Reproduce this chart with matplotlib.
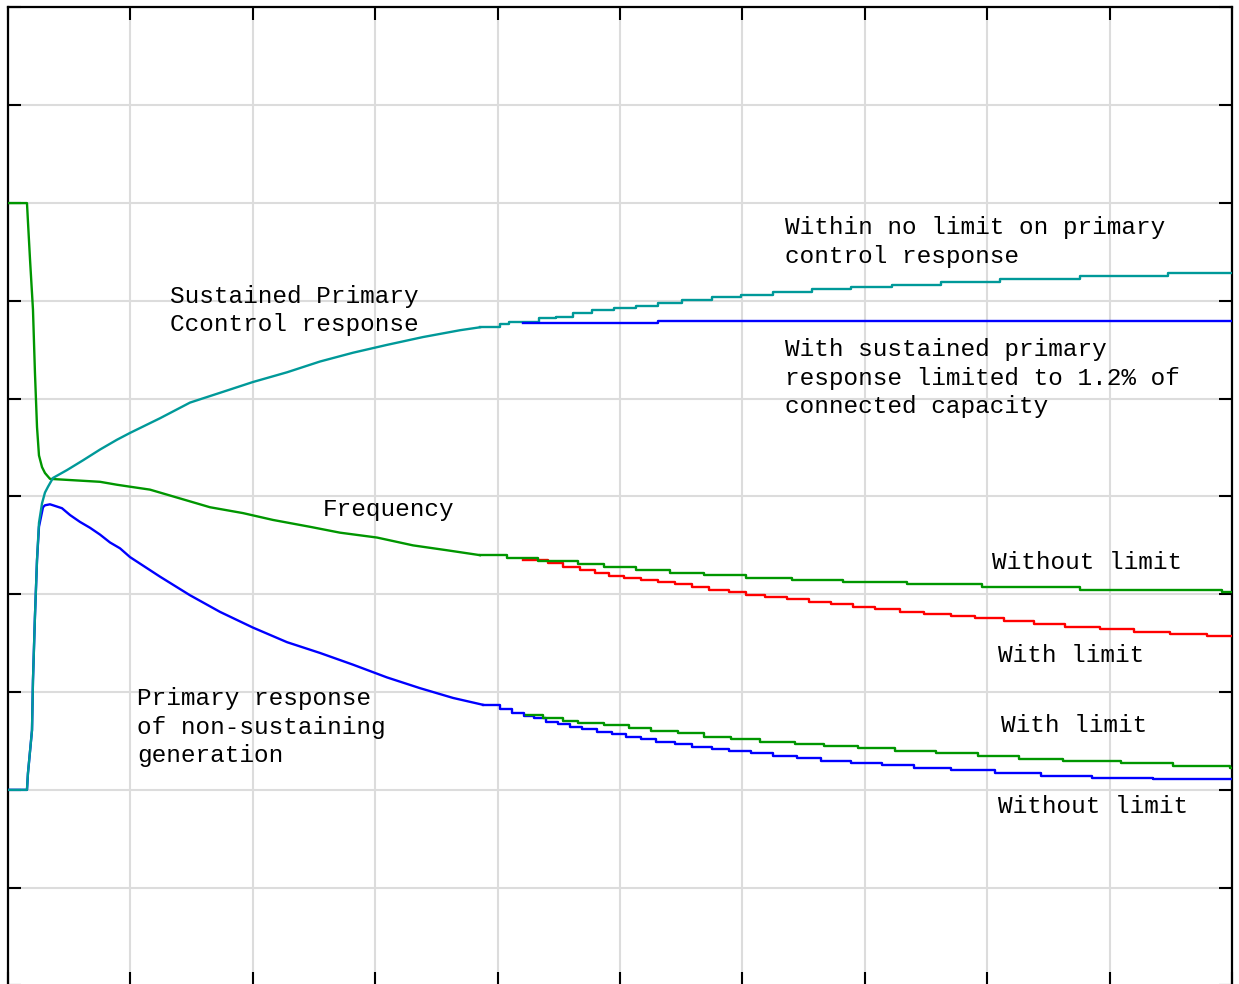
import matplotlib
matplotlib.use("Agg")
import matplotlib.pyplot as plt
import numpy as np

# time axis 0..10, values in grid units 0..10
t_freq = [0.0, 0.155, 0.163, 0.18, 0.204, 0.22, 0.237, 0.253, 0.278, 0.302, 0.343, 0.752, 0.89,
          0.997, 1.16, 1.405, 1.65, 1.92, 2.165, 2.467, 2.712, 3.015, 3.309, 3.587, 3.856, 4.077,
          4.33, 4.657, 4.869, 5.131, 5.408, 5.686, 6.029, 6.405, 6.822, 7.345, 7.958, 8.758,
          9.918, 10.0]
freq = [8.0, 8.0, 7.81, 7.42, 6.91, 6.27, 5.71, 5.42, 5.30, 5.24, 5.18, 5.15, 5.12,
        5.10, 5.07, 4.98, 4.89, 4.83, 4.76, 4.69, 4.63, 4.58, 4.50, 4.45, 4.40, 4.37,
        4.34, 4.31, 4.28, 4.25, 4.22, 4.20, 4.17, 4.15, 4.13, 4.11, 4.07, 4.04,
        4.02, 4.02]

t_freq_lim = [4.208, 4.412, 4.534, 4.673, 4.796, 4.91, 5.033, 5.172, 5.31, 5.449, 5.588, 5.727,
              5.891, 6.029, 6.185, 6.364, 6.544, 6.724, 6.904, 7.083, 7.288, 7.484, 7.704, 7.9,
              8.137, 8.382, 8.636, 8.922, 9.199, 9.493, 9.796, 10.0]
freq_lim = [4.35, 4.32, 4.28, 4.25, 4.22, 4.19, 4.17, 4.15, 4.13, 4.10, 4.07, 4.04,
            4.02, 3.99, 3.97, 3.95, 3.92, 3.90, 3.87, 3.85, 3.82, 3.80, 3.78, 3.76,
            3.73, 3.70, 3.67, 3.65, 3.61, 3.59, 3.57, 3.57]

t_sust = [0.0, 0.155, 0.163, 0.196, 0.204, 0.22, 0.237, 0.253, 0.278, 0.302, 0.327, 0.368, 0.482,
          0.613, 0.752, 0.89, 0.997, 1.242, 1.487, 1.732, 2.0, 2.28, 2.549, 2.819, 3.096, 3.39,
          3.693, 3.856, 4.02, 4.093, 4.338, 4.477, 4.616, 4.771, 4.951, 5.131, 5.31, 5.507, 5.752,
          5.989, 6.25, 6.569, 6.887, 7.222, 7.623, 8.105, 8.758, 9.477, 10.0]
sust = [2.0, 2.0, 2.17, 2.61, 3.12, 3.77, 4.35, 4.73, 4.93, 5.04, 5.10, 5.19, 5.27,
        5.37, 5.48, 5.58, 5.65, 5.80, 5.96, 6.06, 6.17, 6.27, 6.38, 6.47, 6.55, 6.63,
        6.70, 6.73, 6.76, 6.78, 6.82, 6.84, 6.88, 6.91, 6.93, 6.95, 6.98, 7.01, 7.04,
        7.06, 7.09, 7.12, 7.14, 7.16, 7.19, 7.22, 7.25, 7.28, 7.28]

t_sust_lim = [4.208, 5.31, 10.0]
sust_lim = [6.77, 6.79, 6.79]

t_nonsust = [0.0, 0.155, 0.163, 0.196, 0.204, 0.22, 0.237, 0.253, 0.286, 0.302, 0.343, 0.368,
             0.441, 0.507, 0.588, 0.67, 0.752, 0.833, 0.915, 0.997, 1.242, 1.487, 1.732, 2.0,
             2.28, 2.549, 2.819, 3.096, 3.366, 3.636, 3.88, 4.02, 4.118, 4.216, 4.297, 4.395,
             4.493, 4.592, 4.69, 4.812, 4.935, 5.049, 5.172, 5.294, 5.449, 5.588, 5.752, 5.891,
             6.07, 6.25, 6.446, 6.642, 6.887, 7.141, 7.402, 7.704, 8.064, 8.44, 8.856, 9.355, 10.0]
nonsust = [2.0, 2.0, 2.17, 2.61, 3.12, 3.77, 4.35, 4.69, 4.89, 4.91, 4.92, 4.91,
           4.88, 4.81, 4.74, 4.68, 4.61, 4.53, 4.47, 4.38, 4.18, 3.99, 3.82, 3.66,
           3.51, 3.40, 3.28, 3.15, 3.04, 2.94, 2.87, 2.83, 2.79, 2.76, 2.73, 2.69,
           2.67, 2.64, 2.62, 2.59, 2.57, 2.54, 2.52, 2.49, 2.47, 2.44, 2.42, 2.40,
           2.38, 2.35, 2.33, 2.30, 2.27, 2.25, 2.22, 2.20, 2.17, 2.14, 2.12, 2.11, 2.11]

t_nonsust_lim = [4.232, 4.371, 4.534, 4.657, 4.869, 5.074, 5.253, 5.474, 5.686, 5.907, 6.144,
                 6.43, 6.667, 6.944, 7.247, 7.582, 7.925, 8.26, 8.619, 9.093, 9.518, 9.98, 10.0]
nonsust_lim = [2.77, 2.74, 2.70, 2.68, 2.66, 2.63, 2.60, 2.58, 2.54, 2.52, 2.49,
               2.47, 2.45, 2.43, 2.40, 2.38, 2.35, 2.32, 2.30, 2.27, 2.24, 2.22, 2.22]

GREEN = "#009600"
TEAL = "#009999"
BLUE = "#0000ff"
RED = "#ff0000"
LW = 1.7


def draw(ax, t, y, color, z, split=3.85):
    # early part was read as points along the curve, later part as step corners
    t = np.asarray(t)
    y = np.asarray(y)
    k = int(np.searchsorted(t, split))
    if k > 0:
        ax.plot(t[:k + 1], y[:k + 1], color=color, lw=LW, zorder=z)
    ax.step(t[k:], y[k:], where="post", color=color, lw=LW, zorder=z)


fig = plt.figure(figsize=(12.39, 9.84), dpi=100)
ax = fig.add_axes([0.00646, -0.0015, 0.9879, 0.9939])

draw(ax, t_freq_lim, freq_lim, RED, 3)
draw(ax, t_freq, freq, GREEN, 4)
draw(ax, t_nonsust, nonsust, BLUE, 3)
draw(ax, t_nonsust_lim, nonsust_lim, GREEN, 4)
draw(ax, t_sust, sust, TEAL, 5)
draw(ax, t_sust_lim, sust_lim, BLUE, 6)

ax.set_xlim(0, 10)
ax.set_ylim(0, 10)
ax.set_xticks(range(11))
ax.set_yticks(range(11))
ax.tick_params(direction="in", length=9.5, width=1.5, top=True, right=True,
               labelbottom=False, labelleft=False)
ax.grid(True, color="#dcdcdc", lw=1.5, zorder=0)
ax.set_axisbelow(True)
for s in ax.spines.values():
    s.set_linewidth(1.6)

font = dict(family=["Liberation Mono", "DejaVu Sans Mono"], fontsize=17.6,
            va="center", ha="left", linespacing=1.3, zorder=7)
ax.text(1.32, 6.90, "Sustained Primary\nCcontrol response", **font)
ax.text(6.348, 7.60, "Within no limit on primary\ncontrol response", **font)
ax.text(6.348, 6.21, "With sustained primary\nresponse limited to 1.2% of\nconnected capacity", **font)
ax.text(2.574, 4.87, "Frequency", **font)
ax.text(8.04, 4.32, "Without limit", **font)
ax.text(8.09, 3.37, "With limit", **font)
ax.text(1.054, 2.64, "Primary response\nof non-sustaining\ngeneration", **font)
ax.text(8.11, 2.66, "With limit", **font)
ax.text(8.09, 1.83, "Without limit", **font)

fig.savefig("out.png", dpi=100)
